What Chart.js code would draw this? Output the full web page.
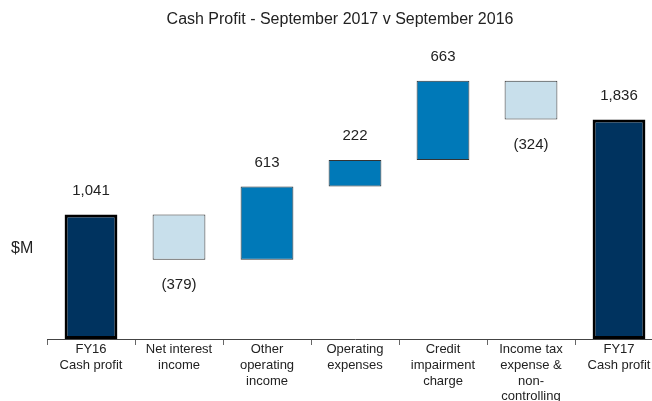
<!DOCTYPE html>
<html>
<head>
<meta charset="utf-8">
<script src="https://cdn.jsdelivr.net/npm/chart.js@4"></script>
<style>
    html, body { margin: 0; padding: 0; background: #fff; overflow: hidden; }
    #wrap { position: relative; width: 700px; height: 401px; }
</style>
</head>
<body>
<div id="wrap"><canvas id="cashChart"></canvas></div>
<script>
// Waterfall data - Cash Profit FY17 v FY16 ($M)
const categories = [
    ['FY16', 'Cash profit'],
    ['Net interest', 'income'],
    ['Other', 'operating', 'income'],
    ['Operating', 'expenses'],
    ['Credit', 'impairment', 'charge'],
    ['Income tax', 'expense &', 'non-', 'controlling'],
    ['FY17', 'Cash profit']
];
const changes = [1041, -379, 613, 222, 663, -324, 1836];
const isTotal = [true, false, false, false, false, false, true];

const chartTitle = 'Cash Profit - September 2017 v September 2016';
const unitLabel = '$M';

// build floating [start, end] ranges
const ranges = [];
let running = 0;
changes.forEach((v, i) => {
    if (isTotal[i]) {
        ranges.push([0, v]);
        running = v;
    } else {
        ranges.push([running, running + v]);
        running += v;
    }
});

const NAVY = '#00335f';
const BLUE = '#0079b8';
const LIGHT = '#c8dfeb';

const fillColors = changes.map((v, i) => isTotal[i] ? NAVY : (v < 0 ? LIGHT : BLUE));
const edgeColors = changes.map((v, i) => isTotal[i] ? '#000' : '#333');
const edgeWidths = changes.map((v, i) => isTotal[i] ? 3 : 1);

function fmt(v) {
    const s = Math.abs(v).toLocaleString('en-US');
    return v < 0 ? '(' + s + ')' : s;
}

// value labels, title and unit text
const textPlugin = {
    id: 'textPlugin',
    afterDatasetsDraw(chart) {
        const ctx = chart.ctx;
        const meta = chart.getDatasetMeta(0);
        ctx.save();
        ctx.fillStyle = '#222';
        ctx.textAlign = 'center';
        ctx.textBaseline = 'middle';
        ctx.font = '15px "Liberation Sans", Arial, sans-serif';
        meta.data.forEach((bar, i) => {
            const top = Math.min(bar.y, bar.base);
            const bottom = Math.max(bar.y, bar.base);
            if (changes[i] < 0) {
                ctx.fillText(fmt(changes[i]), bar.x, bottom + 25);
            } else {
                ctx.fillText(fmt(changes[i]), bar.x, top - 24);
            }
        });

        ctx.font = '16px "Liberation Sans", Arial, sans-serif';
        ctx.fillText(chartTitle, 340, 20);

        ctx.textAlign = 'left';
        ctx.fillText(unitLabel, 11, 249);
        ctx.restore();
    }
};

const ctx = document.getElementById('cashChart').getContext('2d');

new Chart(ctx, {
    type: 'bar',
    data: {
        labels: categories,
        datasets: [{
            data: ranges,
            backgroundColor: fillColors,
            borderColor: edgeColors,
            borderWidth: edgeWidths,
            borderSkipped: false,
            categoryPercentage: 1,
            barPercentage: 0.6
        }]
    },
    options: {
        responsive: true,
        maintainAspectRatio: false,
        animation: false,
        layout: {
            padding: { left: 47, right: 37, top: 40, bottom: 0 }
        },
        plugins: {
            legend: { display: false },
            tooltip: { enabled: false }
        },
        scales: {
            y: {
                display: false,
                min: 0,
                max: 2500
            },
            x: {
                afterFit: function(scale) {
                    scale.height = 62;
                },
                border: {
                    display: true,
                    color: '#444',
                    width: 1
                },
                grid: {
                    offset: true,
                    drawOnChartArea: false,
                    drawTicks: true,
                    tickLength: 6,
                    color: '#666'
                },
                ticks: {
                    color: '#222',
                    padding: -3,
                    maxRotation: 0,
                    autoSkip: false,
                    font: {
                        family: '"Liberation Sans", Arial, sans-serif',
                        size: 13,
                        lineHeight: 1.2
                    }
                }
            }
        }
    },
    plugins: [textPlugin]
});
</script>
</body>
</html>
